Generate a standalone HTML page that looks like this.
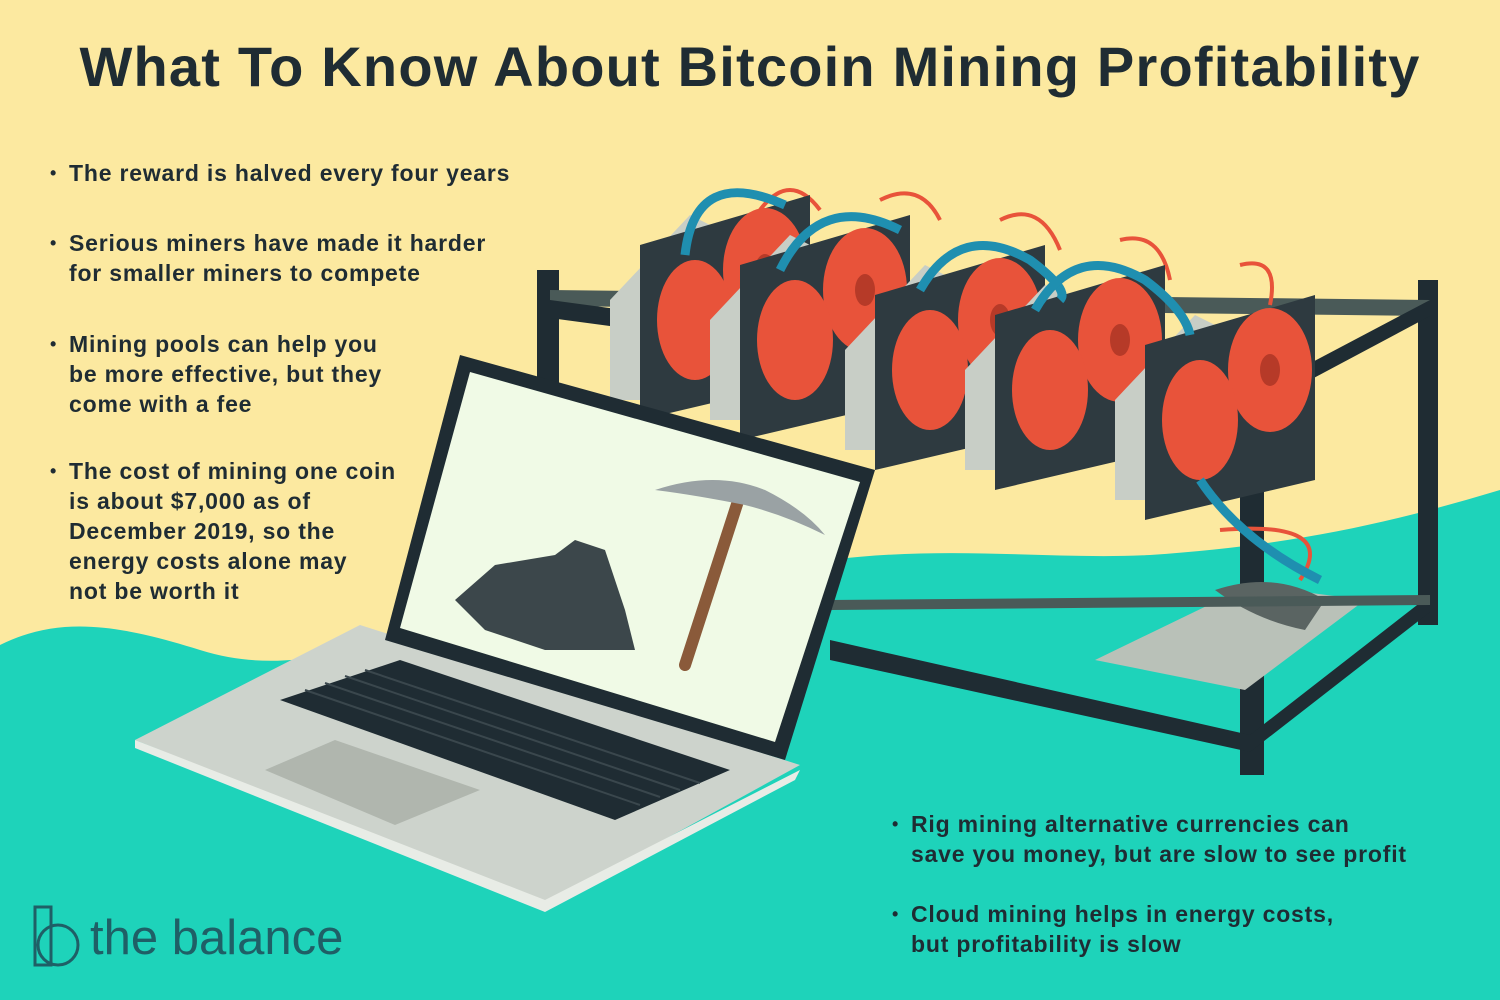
<!DOCTYPE html>
<html><head><meta charset="utf-8"><style>
html,body{margin:0;padding:0}
body{width:1500px;height:1000px;overflow:hidden;background:#fce9a0;font-family:"Liberation Sans",sans-serif;position:relative}
.t{position:absolute;color:#1f2c33;font-weight:bold}
.b{position:absolute;color:#1f2c33;font-size:23px;line-height:30px;font-weight:bold;padding-left:19px;letter-spacing:0.8px;white-space:nowrap}
.b:before{content:"•";position:absolute;left:0;font-size:18px}
</style></head><body>
<svg width="1500" height="1000" style="position:absolute;left:0;top:0">
<path fill="#1ed3ba" d="M0,645 C60,615 120,625 200,650 C280,675 340,650 420,640 L830,560 C950,545 1050,560 1150,555 C1300,545 1400,520 1500,490 L1500,1000 L0,1000Z"/>
<g>
<rect x="537" y="270" width="22" height="390" fill="#1f2c33"/>
<rect x="1418" y="280" width="20" height="345" fill="#1f2c33"/>
<rect x="1240" y="380" width="24" height="395" fill="#1f2c33"/>
<polygon points="550,290 1430,300 1430,316 550,306" fill="#4a5a58"/>
<polygon points="550,300 1250,395 1250,412 550,318" fill="#1f2c33"/>
<polygon points="1250,395 1430,300 1430,316 1250,412" fill="#1f2c33"/>
<rect x="850" y="480" width="160" height="130" fill="#9aa59d" transform="skewY(-12)"/>
<polygon points="1095,660 1250,585 1365,600 1245,690" fill="#b9c1b8"/>
<path d="M1215,590 q60,-20 110,10 l-20,30 q-50,-10 -90,-40z" fill="#5a6462"/>
<polygon points="830,640 1250,735 1250,752 830,660" fill="#1f2c33"/>
<polygon points="1250,735 1430,595 1430,612 1250,752" fill="#1f2c33"/>
<polygon points="830,600 1430,595 1430,605 830,610" fill="#4a5a58"/>
<g fill="none" stroke="#e8533a" stroke-width="4">
<path d="M760,210 q30,-40 60,0"/><path d="M880,200 q40,-20 60,20"/><path d="M1000,220 q40,-20 60,30"/><path d="M1120,240 q40,-10 50,40"/><path d="M1240,265 q40,-10 30,40"/><path d="M1300,580 q40,-60 -80,-50"/>
</g>
<g id="gpu">
<polygon points="610,300 690,215 720,230 640,400 610,400" fill="#c8cec6"/>
<polygon points="640,245 810,195 810,380 640,420" fill="#2e3a40"/>
<ellipse cx="765" cy="270" rx="42" ry="62" fill="#e8533a"/>
<ellipse cx="695" cy="320" rx="38" ry="60" fill="#e8533a"/>
<ellipse cx="765" cy="270" rx="10" ry="16" fill="#b63a28"/>
</g>
<use href="#gpu" x="100" y="20"/>
<use href="#gpu" x="235" y="50"/>
<use href="#gpu" x="355" y="70"/>
<use href="#gpu" x="505" y="100"/>
<g fill="none" stroke="#1f8fb0" stroke-width="9">
<path d="M685,255 q10,-90 100,-50"/><path d="M780,270 q40,-80 120,-40"/><path d="M920,290 q40,-70 110,-30 q40,30 30,40"/><path d="M1035,310 q40,-70 110,-30 q40,30 45,55"/><path d="M1200,480 q40,60 120,100"/>
</g>
</g>
<g>
<polygon points="135,740 360,625 800,765 545,905" fill="#cdd3cc"/>
<polygon points="135,740 545,900 800,770 795,780 545,912 135,748" fill="#e8ece6"/>
<polygon points="280,700 400,660 730,770 615,820" fill="#1f2c33"/>
<polygon points="265,770 335,740 480,790 395,825" fill="#b0b6ae"/>
<g stroke="#3a474d" stroke-width="2">
<line x1="305" y1="690" x2="640" y2="805"/><line x1="325" y1="683" x2="660" y2="797"/><line x1="345" y1="676" x2="680" y2="790"/><line x1="365" y1="670" x2="700" y2="783"/>
</g>
<polygon points="460,355 875,470 785,760 385,640" fill="#1f2c33"/>
<polygon points="470,372 860,482 775,742 400,628" fill="#f0fae6"/>
<path d="M455,600 l40,-35 60,-10 20,-15 30,10 20,60 10,40 -90,0 -60,-20 z" fill="#3c474b"/>
<line x1="740" y1="495" x2="685" y2="665" stroke="#8a5a3a" stroke-width="12" stroke-linecap="round"/>
<path d="M655,490 q60,-20 110,0 q40,20 60,45 q-40,-20 -80,-30 q-50,-10 -90,-15z" fill="#9aa2a4"/>
</g>
<g fill="none" stroke="#1f5f66" stroke-width="3">
<rect x="35" y="907" width="16" height="58"/><circle cx="58" cy="945" r="20"/>
</g>
</svg>
<div class="t" style="left:0;width:1500px;text-align:center;top:34px;font-size:56px;letter-spacing:1.2px">What To Know About Bitcoin Mining Profitability</div>
<div class="b" style="left:50px;top:158px">The reward is halved every four years</div>
<div class="b" style="left:50px;top:228px">Serious miners have made it harder<br>for smaller miners to compete</div>
<div class="b" style="left:50px;top:329px">Mining pools can help you<br>be more effective, but they<br>come with a fee</div>
<div class="b" style="left:50px;top:456px">The cost of mining one coin<br>is about $7,000 as of<br>December 2019, so the<br>energy costs alone may<br>not be worth it</div>
<div class="b" style="left:892px;top:809px">Rig mining alternative currencies can<br>save you money, but are slow to see profit</div>
<div class="b" style="left:892px;top:899px">Cloud mining helps in energy costs,<br>but profitability is slow</div>
<div class="t" style="left:90px;top:910px;font-size:49px;color:#1f5f66;font-weight:normal">the balance</div>
</body></html>
